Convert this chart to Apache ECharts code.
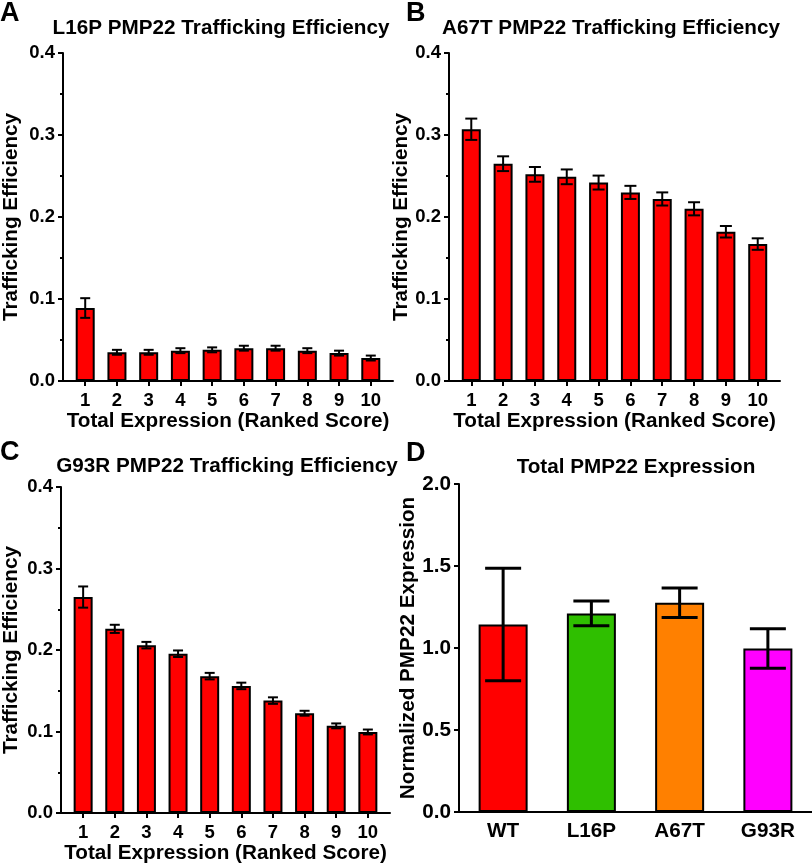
<!DOCTYPE html>
<html>
<head>
<meta charset="utf-8">
<title>PMP22 Trafficking Efficiency</title>
<script src="https://cdn.jsdelivr.net/npm/echarts@6/dist/echarts.min.js"></script>
<style>
    html, body { margin: 0; padding: 0; background: #fff; }
    #chart { width: 812px; height: 865px; }
</style>
</head>
<body>
<div id="chart"></div>
<script>
// ranked expression score bins (panels A-C)
const rankScores = [1, 2, 3, 4, 5, 6, 7, 8, 9, 10];

const l16pMeans = [0.089, 0.035, 0.035, 0.037, 0.038, 0.040, 0.040, 0.037, 0.034, 0.028];
const l16pErrs  = [0.012, 0.003, 0.003, 0.003, 0.003, 0.003, 0.003, 0.003, 0.003, 0.003];

const a67tMeans = [0.307, 0.265, 0.252, 0.249, 0.242, 0.230, 0.222, 0.210, 0.182, 0.167];
const a67tErrs  = [0.013, 0.009, 0.009, 0.009, 0.0085, 0.008, 0.008, 0.008, 0.007, 0.007];

const g93rMeans = [0.265, 0.226, 0.206, 0.1955, 0.168, 0.156, 0.138, 0.1225, 0.107, 0.0995];
const g93rErrs  = [0.013, 0.005, 0.004, 0.004, 0.004, 0.004, 0.004, 0.003, 0.003, 0.003];

// panel D
const variants   = ['WT', 'L16P', 'A67T', 'G93R'];
const totalMeans = [1.143, 1.211, 1.276, 0.997];
const totalErrs  = [0.343, 0.076, 0.090, 0.120];

const variantColors = ['#ff0000', '#2fbf00', '#ff8000', '#ff00ff'];

const FONT = 'Liberation Sans, Arial, sans-serif';
const tickFont = { fontFamily: FONT, fontWeight: 'bold', fontSize: 18.5, color: '#000' };
const bigFont = { fontFamily: FONT, fontWeight: 'bold', fontSize: 20.7, color: '#000' };
const letterFont = { fontFamily: FONT, fontWeight: 'bold', fontSize: 27, color: '#000' };

function errorBars(xIdx, means, errs, xs, half, width) {
    return {
        type: 'custom',
        xAxisIndex: xIdx,
        yAxisIndex: xIdx,
        z: 5,
        data: means.map((m, i) => [xs[i], m, errs[i]]),
        renderItem: function(params, api) {
            let x = api.value(0), m = api.value(1), e = api.value(2);
            let hi = api.coord([x, m + e]);
            let lo = api.coord([x, m - e]);
            let st = { stroke: '#000', lineWidth: width };
            return {
                type: 'group',
                children: [
                    { type: 'line', shape: { x1: hi[0], y1: hi[1], x2: lo[0], y2: lo[1] }, style: st },
                    { type: 'line', shape: { x1: hi[0] - half, y1: hi[1], x2: hi[0] + half, y2: hi[1] }, style: st },
                    { type: 'line', shape: { x1: lo[0] - half, y1: lo[1], x2: lo[0] + half, y2: lo[1] }, style: st }
                ]
            };
        }
    };
}

function rankXAxis(idx) {
    return {
        type: 'value',
        gridIndex: idx,
        min: 0.3,
        max: 10.7,
        name: 'Total Expression (Ranked Score)',
        nameLocation: 'middle',
        nameGap: 29,
        nameTextStyle: bigFont,
        axisLine: { lineStyle: { color: '#000', width: 2 } },
        axisTick: { show: true, length: 5, lineStyle: { color: '#000', width: 2 }, customValues: rankScores },
        axisLabel: { ...tickFont, margin: 10, customValues: rankScores },
        splitLine: { show: false }
    };
}

function effYAxis(idx, gap) {
    return {
        type: 'value',
        gridIndex: idx,
        min: 0,
        max: 0.4,
        interval: 0.1,
        name: 'Trafficking Efficiency',
        nameLocation: 'middle',
        nameGap: gap,
        nameTextStyle: bigFont,
        axisLine: { show: true, lineStyle: { color: '#000', width: 2 } },
        axisTick: { show: true, length: 5, lineStyle: { color: '#000', width: 2 } },
        minorTick: { show: true, splitNumber: 2, length: 3, lineStyle: { color: '#000', width: 2 } },
        axisLabel: { ...tickFont, margin: 8, formatter: v => v.toFixed(1) },
        splitLine: { show: false }
    };
}

function rankBars(idx, means) {
    return {
        type: 'bar',
        xAxisIndex: idx,
        yAxisIndex: idx,
        barWidth: 19,
        data: means.map((m, i) => [rankScores[i], m]),
        itemStyle: { color: '#ff0000', borderColor: '#000', borderWidth: 2 }
    };
}

let chart = echarts.init(document.getElementById('chart'));
chart.setOption({
    animation: false,
    backgroundColor: '#fff',
    textStyle: { fontFamily: FONT },
    title: [
        { text: 'A', left: 0, top: 0, padding: 0, textStyle: letterFont },
        { text: 'B', left: 406, top: 0, padding: 0, textStyle: letterFont },
        { text: 'C', left: 0, top: 439, padding: 0, textStyle: letterFont },
        { text: 'D', left: 406, top: 440, padding: 0, textStyle: letterFont },
        { text: 'L16P PMP22 Trafficking Efficiency', left: 221, top: 18, padding: 0, textAlign: 'center', textStyle: bigFont },
        { text: 'A67T PMP22 Trafficking Efficiency', left: 611, top: 18, padding: 0, textAlign: 'center', textStyle: bigFont },
        { text: 'G93R PMP22 Trafficking Efficiency', left: 227, top: 456, padding: 0, textAlign: 'center', textStyle: bigFont },
        { text: 'Total PMP22 Expression', left: 636, top: 457, padding: 0, textAlign: 'center', textStyle: bigFont }
    ],
    grid: [
        { left: 62, top: 53, width: 331, height: 328 },
        { left: 449, top: 53, width: 331, height: 328 },
        { left: 60, top: 487, width: 330, height: 327 },
        { left: 459, top: 484, width: 353, height: 328 }
    ],
    xAxis: [
        rankXAxis(0),
        rankXAxis(1),
        rankXAxis(2),
        {
            type: 'category',
            gridIndex: 3,
            data: variants,
            axisLine: { lineStyle: { color: '#000', width: 2 } },
            axisTick: { show: false },
            axisLabel: { ...bigFont, margin: 9 }
        }
    ],
    yAxis: [
        effYAxis(0, 41),
        effYAxis(1, 37),
        effYAxis(2, 39),
        {
            type: 'value',
            gridIndex: 3,
            min: 0,
            max: 2,
            interval: 0.5,
            name: 'Normalized PMP22 Expression',
            nameLocation: 'middle',
            nameGap: 36,
            nameTextStyle: bigFont,
            axisLine: { show: true, lineStyle: { color: '#000', width: 2 } },
            axisTick: { show: true, length: 5, lineStyle: { color: '#000', width: 2 } },
            axisLabel: { ...bigFont, margin: 8, formatter: v => v.toFixed(1) },
            splitLine: { show: false }
        }
    ],
    series: [
        rankBars(0, l16pMeans),
        errorBars(0, l16pMeans, l16pErrs, rankScores, 5, 2),
        rankBars(1, a67tMeans),
        errorBars(1, a67tMeans, a67tErrs, rankScores, 6, 2),
        rankBars(2, g93rMeans),
        errorBars(2, g93rMeans, g93rErrs, rankScores, 5, 2),
        {
            type: 'bar',
            xAxisIndex: 3,
            yAxisIndex: 3,
            barWidth: 49,
            data: totalMeans.map((m, i) => ({
                value: m,
                itemStyle: { color: variantColors[i] }
            })),
            itemStyle: { borderColor: '#000', borderWidth: 2 }
        },
        errorBars(3, totalMeans, totalErrs, [0, 1, 2, 3], 18, 3)
    ]
});
</script>
</body>
</html>
